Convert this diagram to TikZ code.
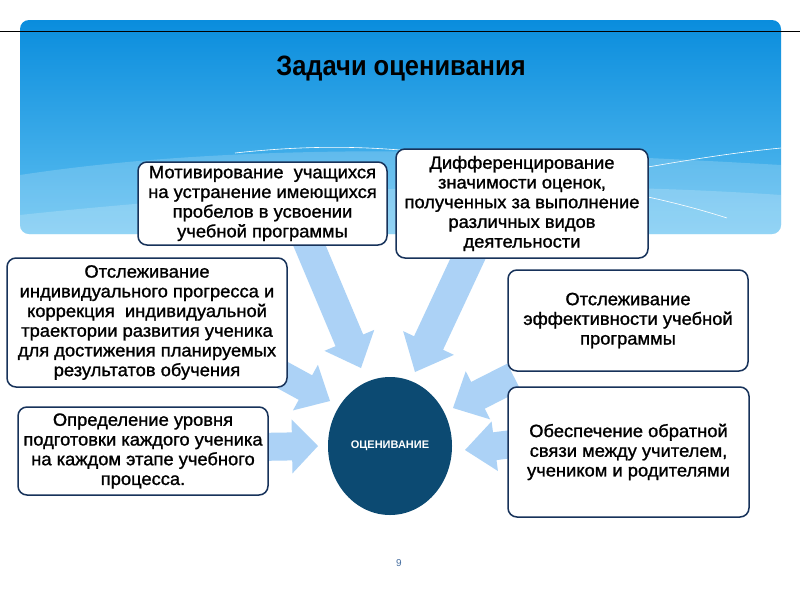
\documentclass[tikz,border=0pt]{standalone}
\usepackage{graphicx}
\usepackage{fontspec}
\setmainfont{Liberation Sans}
\newfontfamily\boxfont{Liberation Sans}[FakeBold=1.2, FakeStretch=1.03]
\usetikzlibrary{calc,shapes.geometric}
\definecolor{navy}{RGB}{23,50,90}
\definecolor{arrowblue}{RGB}{172,210,246}
\definecolor{ellblue}{RGB}{12,74,114}
\definecolor{paneltop}{RGB}{10,141,221}
\definecolor{panelbot}{RGB}{95,192,241}
\definecolor{pagenum}{RGB}{70,110,160}
\tikzset{
  box/.style={draw=navy, line width=1.5pt, fill=white, rounded corners=9pt,
    align=center, inner sep=0pt, font=\boxfont\fontsize{17.8}{19.7}\selectfont},
  arrowfill/.style={fill=arrowblue},
}
\newcommand\blockarrow[5]{%
  \coordinate (ba-b) at ($(#2)!#5!(#1)$);
  \fill[arrowfill] ($(#1)!#3!90:(#2)$) -- ($(ba-b)!#3!90:(#2)$) -- ($(ba-b)!#4!90:(#2)$)
    -- (#2) -- ($(ba-b)!#4!-90:(#2)$) -- ($(ba-b)!#3!-90:(#2)$) -- ($(#1)!#3!-90:(#2)$) -- cycle;
}
\begin{document}
\begin{tikzpicture}[x=1pt,y=-1pt]
\useasboundingbox (0,0) rectangle (800,600);
\fill[white] (0,0) rectangle (800,600);
% panel
\shade[top color=paneltop, bottom color=panelbot, rounded corners=9pt] (20,20) rectangle (781,234);
\begin{scope}
  \clip[rounded corners=9pt] (20,20) rectangle (781,234);
  \fill[white, opacity=0.18] (20,175) .. controls (250,140) and (520,150) .. (781,165) -- (781,234) -- (20,234) -- cycle;
  \fill[white, opacity=0.18] (20,215) .. controls (300,185) and (560,180) .. (781,195) -- (781,234) -- (20,234) -- cycle;
  \draw[white, line width=0.6pt] (235,153) .. controls (300,146) and (350,146) .. (400,150);
  \draw[white, line width=0.6pt] (648,167) .. controls (700,158) and (740,152) .. (781,148);
  \draw[white, line width=0.6pt] (648,197) .. controls (680,204) and (705,211) .. (727,218);
\end{scope}
\draw[line width=0.8pt] (0,31) -- (800,31);
\node[font=\fontsize{28}{32}\selectfont\bfseries, anchor=base, inner sep=0pt] (title) at (401,75) {\scalebox{0.91}[1]{Задачи оценивания}};
% arrows
\coordinate (a1t) at (305,235); \coordinate (a1p) at (361,368);
\coordinate (a2t) at (472,250); \coordinate (a2p) at (415,372);
\coordinate (a3t) at (255,360); \coordinate (a3p) at (330,401);
\coordinate (a4t) at (255,447); \coordinate (a4p) at (318,446);
\coordinate (a5t) at (514,377); \coordinate (a5p) at (453,408);
\coordinate (a6t) at (512,444); \coordinate (a6p) at (465,450);
\blockarrow{a1t}{a1p}{15pt}{27pt}{30pt}
\blockarrow{a2t}{a2p}{16pt}{28pt}{32pt}
\blockarrow{a3t}{a3p}{14pt}{26pt}{28pt}
\blockarrow{a4t}{a4p}{14pt}{27pt}{26pt}
\blockarrow{a5t}{a5p}{15pt}{27pt}{28pt}
\blockarrow{a6t}{a6p}{14pt}{25pt}{30pt}
% boxes
\node[box, minimum width=249pt, minimum height=83pt] (A) at (262.5,203.5)
  {Мотивирование\ \ учащихся\\на устранение имеющихся\\пробелов в усвоении\\учебной программы};
\node[box, minimum width=252pt, minimum height=109pt] (B) at (522,203.5)
  {Дифференцирование\\значимости оценок,\\полученных за выполнение\\различных видов\\деятельности};
\node[box, minimum width=280pt, minimum height=129pt] (C) at (147,322.5)
  {Отслеживание\\индивидуального прогресса и\\коррекция\ \ индивидуальной\\траектории развития ученика\\для достижения планируемых\\результатов обучения};
\node[box, minimum width=240pt, minimum height=101pt] (D) at (628,320.5)
  {Отслеживание\\эффективности учебной\\программы};
\node[box, minimum width=250pt, minimum height=88pt] (E) at (143,451)
  {Определение уровня\\подготовки каждого ученика\\на каждом этапе учебного\\процесса.};
\node[box, minimum width=241pt, minimum height=130pt] (F) at (628.5,452)
  {Обеспечение обратной\\связи между учителем,\\учеником и родителями};
% centre
\node[ellipse, fill=ellblue, minimum width=124pt, minimum height=138pt, inner sep=0pt,
  text=white, font=\fontsize{11}{13}\selectfont\bfseries] (core) at (390,446) {ОЦЕНИВАНИЕ};
\node[text=pagenum, font=\fontsize{10}{12}\selectfont] (pg) at (399,563) {9};
\end{tikzpicture}
\end{document}
